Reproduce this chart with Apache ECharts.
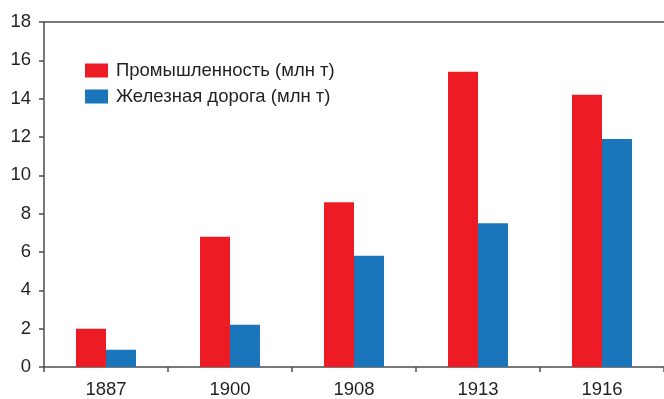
<!DOCTYPE html>
<html><head><meta charset="utf-8">
<script src="https://cdn.jsdelivr.net/npm/echarts@6/dist/echarts.min.js"></script>
<style>html,body{margin:0;padding:0;background:#fff}#c{width:664px;height:399px}</style>
</head><body><div id="c"></div>
<script>
const years = ['1887', '1900', '1908', '1913', '1916'];
const industry = [2.0, 6.8, 8.6, 15.4, 14.2];
const railway = [0.9, 2.2, 5.8, 7.5, 11.9];
const seriesNames = ['Промышленность (млн т)', 'Железная дорога (млн т)'];
const yTicks = [0, 2, 4, 6, 8, 10, 12, 14, 16, 18];

const font = '"Liberation Sans", Arial, Helvetica, sans-serif';
const axisColor = '#4d4d4d';
const textColor = '#231f20';
const chart = echarts.init(document.getElementById('c'));
chart.setOption({
  animation: false,
  textStyle: { fontFamily: font },
  grid: { left: 44, right: 0, top: 22, bottom: 31, containLabel: false },
  legend: {
    left: 85, top: 61, orient: 'vertical', itemGap: 7, padding: 0,
    itemWidth: 23, itemHeight: 14,
    icon: 'rect',
    textStyle: { fontSize: 18.5, lineHeight: 18, color: textColor, fontFamily: font, padding: [0, 0, 0, 3] },
    data: seriesNames
  },
  xAxis: [{
    type: 'category', data: years,
    axisLine: { lineStyle: { color: axisColor, width: 1.5 } },
    axisTick: { show: true, length: 5, lineStyle: { color: axisColor, width: 1.5 } },
    axisLabel: { fontSize: 18.5, color: textColor, margin: 13, fontFamily: font }
  }, {
    type: 'category', data: years, position: 'top',
    axisLine: { show: true, lineStyle: { color: axisColor, width: 1.5 } },
    axisTick: { show: false }, axisLabel: { show: false }
  }],
  yAxis: {
    type: 'value', min: yTicks[0], max: yTicks[yTicks.length - 1], interval: 2,
    axisLine: { show: true, lineStyle: { color: axisColor, width: 1.5 } },
    axisTick: { show: true, length: 5, lineStyle: { color: axisColor, width: 1.5 } },
    axisLabel: { fontSize: 18.5, color: textColor, margin: 13, fontFamily: font },
    splitLine: { show: false }
  },
  series: [
    { name: seriesNames[0], type: 'bar', data: industry, barWidth: 30, barGap: '0%',
      itemStyle: { color: '#ED1C24' } },
    { name: seriesNames[1], type: 'bar', data: railway, barWidth: 30, barGap: '0%',
      itemStyle: { color: '#1B75BB' } }
  ]
});
</script></body></html>
